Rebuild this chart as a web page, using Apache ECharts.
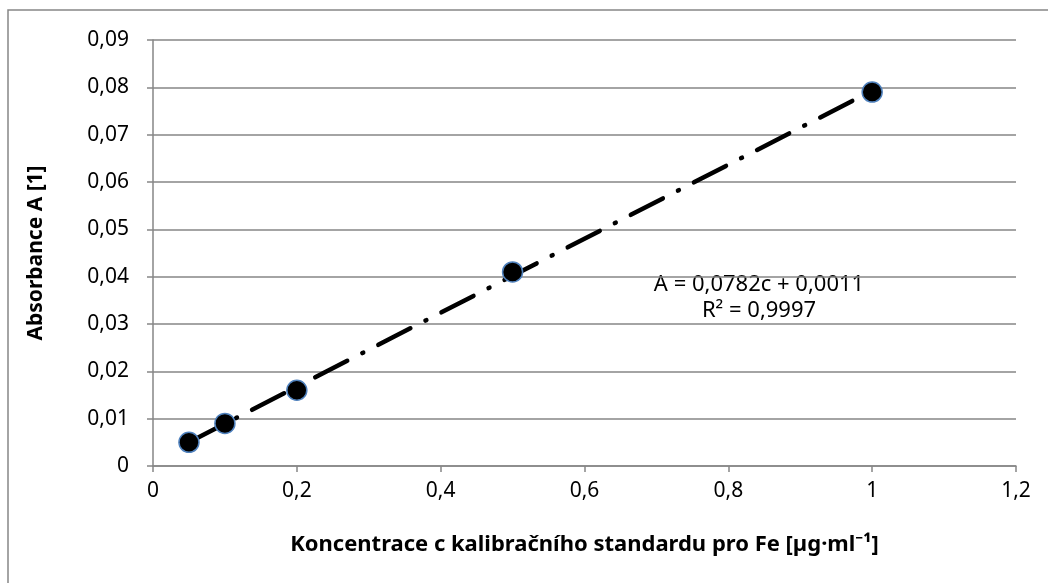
<!DOCTYPE html>
<html><head><meta charset="utf-8">
<script src="https://cdn.jsdelivr.net/npm/echarts@6/dist/echarts.min.js"></script>
<style>html,body{margin:0;padding:0;background:#fff}#c{width:1048px;height:583px}</style>
</head><body><div id="c"></div>
<script>
var concentrations = [0.05, 0.1, 0.2, 0.5, 1];
var absorbances = [0.005, 0.009, 0.016, 0.041, 0.079];
var trendX = [0.05, 1];
var trendY = [0.0050, 0.0793];
var equationText = ['A = 0,0782c + 0,0011', 'R² = 0,9997'];
var xTitle = 'Koncentrace c kalibračního standardu pro Fe [µg·ml⁻¹]';
var yTitle = 'Absorbance A [1]';

var font = 'Noto Sans';
var chart = echarts.init(document.getElementById('c'), null, {renderer:'canvas'});
var fmt = function(v){ return (Math.round(v*100)/100).toString().replace('.', ','); };
var fmtY = function(v){ return v === 0 ? '0' : v.toFixed(2).replace('.', ','); };
chart.setOption({
  animation:false,
  backgroundColor:'#fff',
  grid:{left:153, right:32, top:40, bottom:117, containLabel:false},
  xAxis:{type:'value', min:0, max:1.2, interval:0.2,
    axisLine:{show:true, lineStyle:{color:'#868686', width:1.5}},
    axisTick:{show:true, inside:false, length:6, lineStyle:{color:'#868686', width:1.5}},
    splitLine:{show:false},
    axisLabel:{formatter:fmt, color:'#000', fontFamily:font, fontSize:21, margin:15},
    name:xTitle, nameLocation:'middle', nameGap:68,
    nameTextStyle:{color:'#000', fontFamily:font, fontSize:22, fontWeight:'bold'}
  },
  yAxis:{type:'value', min:0, max:0.09, interval:0.01,
    axisLine:{show:true, lineStyle:{color:'#868686', width:1.5}},
    axisTick:{show:true, inside:false, length:6, lineStyle:{color:'#868686', width:1.5}},
    splitLine:{show:true, lineStyle:{color:'#868686', width:1.5}},
    axisLabel:{formatter:fmtY, color:'#000', fontFamily:font, fontSize:21, margin:24},
    name:yTitle, nameLocation:'middle', nameGap:106, nameRotate:90,
    nameTextStyle:{color:'#000', fontFamily:font, fontSize:21, fontWeight:'bold'}
  },
  series:[
    {type:'line', data:trendX.map(function(x,i){return [x, trendY[i]];}),
     showSymbol:false, symbol:'none', z:2,
     lineStyle:{color:'#000', width:4.5, type:[36,17,1,17], cap:'round'}},
    {type:'scatter', data:concentrations.map(function(x,i){return [x, absorbances[i]];}),
     symbol:'circle', symbolSize:20, z:3,
     itemStyle:{color:'#000', opacity:1, borderColor:'#4f81bd', borderWidth:1.5}}
  ],
  graphic:[
    {type:'rect', shape:{x:8, y:10, width:1100, height:700}, style:{fill:'none', stroke:'#868686', lineWidth:1.5}, silent:true},
    {type:'text', x:759, y:285, style:{text:equationText[0], fill:'#000', font:'22px "'+font+'"', textAlign:'center', textVerticalAlign:'middle'}},
    {type:'text', x:759, y:311, style:{text:equationText[1], fill:'#000', font:'22px "'+font+'"', textAlign:'center', textVerticalAlign:'middle'}}
  ]
});
</script></body></html>
